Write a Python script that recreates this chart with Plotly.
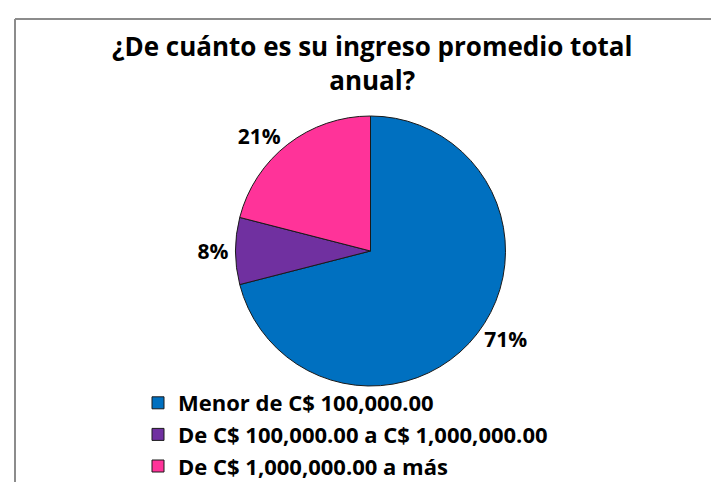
import plotly.graph_objects as go

W, H = 719, 482

categories = [
    "Menor de C$ 100,000.00",
    "De C$ 100,000.00 a C$ 1,000,000.00",
    "De C$ 1,000,000.00 a más",
]
percentages = [71, 8, 21]
colors = ["#0070C0", "#7030A0", "#FF3399"]

title_text = "¿De cuánto es su ingreso promedio total<br>anual?"

FONT = "Open Sans"

def px_x(px):
    return px / W

def px_y(py):
    return 1 - py / H

fig = go.Figure()
fig.add_trace(go.Pie(
    labels=categories,
    values=percentages,
    sort=False,
    direction="clockwise",
    rotation=0,
    marker=dict(colors=colors, line=dict(color="#1a1a1a", width=1)),
    texttemplate="<b>%{percent:.0%}</b>",
    textposition="outside",
    textfont=dict(family=FONT, size=21, color="#000000"),
    hoverinfo="label+percent",
    domain=dict(x=[px_x(225), px_x(500)], y=[px_y(378), px_y(108)]),
    showlegend=True,
))

fig.update_layout(
    width=W, height=H,
    margin=dict(l=0, r=0, t=0, b=0),
    paper_bgcolor="#ffffff",
    plot_bgcolor="#ffffff",
    annotations=[
        dict(
            text=title_text,
            xref="paper", yref="paper",
            x=px_x(364), xanchor="center",
            y=px_y(55), yanchor="middle",
            showarrow=False,
            font=dict(family=FONT, size=26, color="#000000", weight="bold"),
        )
    ],
    legend=dict(
        x=px_x(130), xanchor="left",
        y=px_y(374), yanchor="top",
        font=dict(family=FONT, size=22, color="#000000", weight="bold"),
        bgcolor="rgba(0,0,0,0)",
        itemclick=False,
    ),
    shapes=[
        dict(type="line", xref="paper", yref="paper",
             x0=px_x(7), x1=1.0, y0=px_y(11), y1=px_y(11),
             line=dict(color="#8c8c8c", width=2)),
        dict(type="line", xref="paper", yref="paper",
             x0=px_x(7), x1=px_x(7), y0=px_y(11), y1=-0.05,
             line=dict(color="#8c8c8c", width=2)),
    ],
)

fig.write_html("out.html")
